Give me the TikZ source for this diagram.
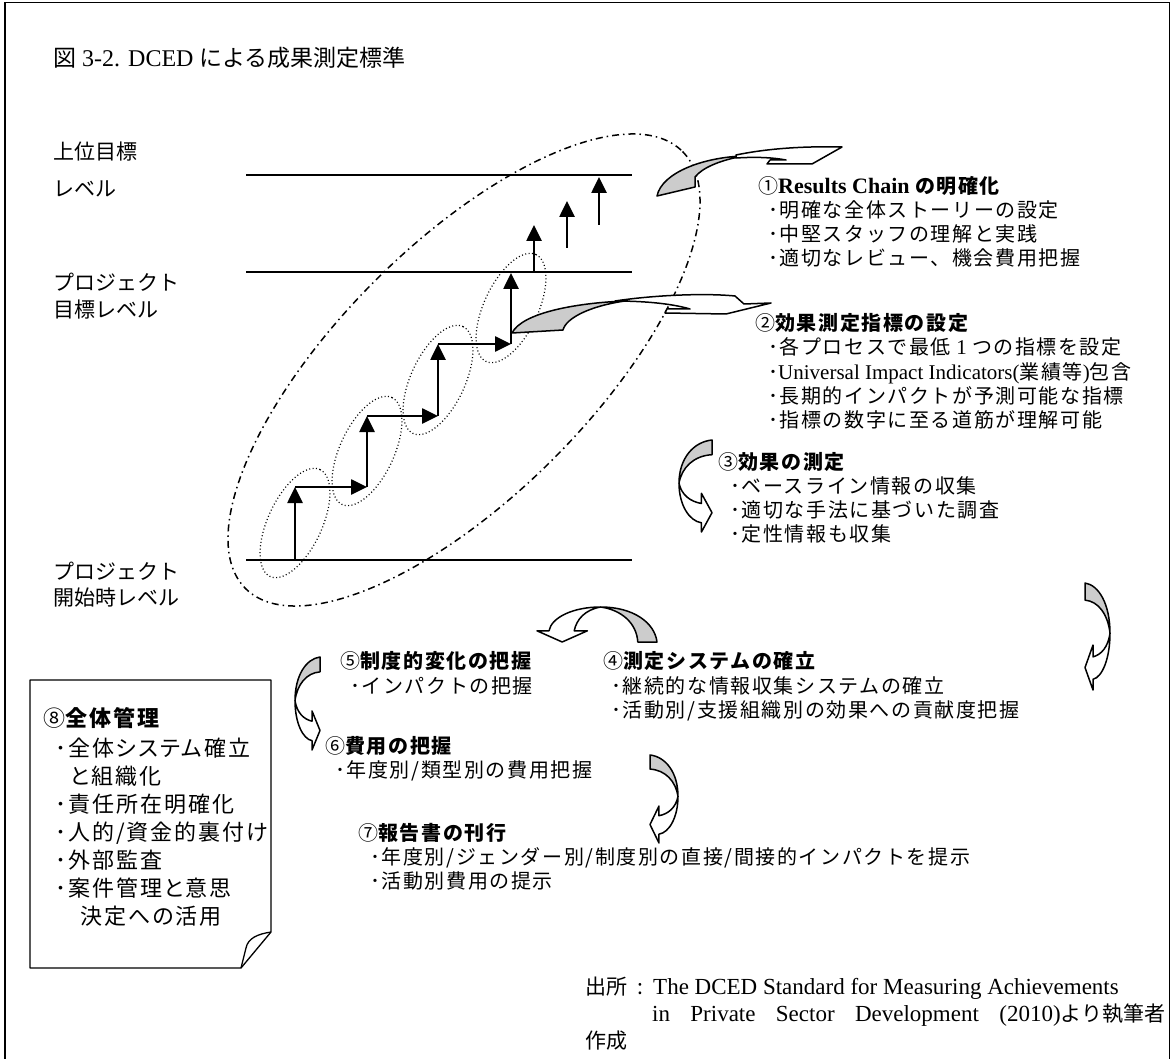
\documentclass[tikz,border=0pt]{standalone}
\usepackage{fontspec}
\setmainfont{Liberation Serif}
\newfontfamily\jp[LetterSpace=8]{Noto Sans CJK JP}
\newfontfamily\jpwide[LetterSpace=9,RawFeature=+palt]{Noto Sans CJK JP}
\newfontfamily\jpplain{Noto Sans CJK JP}
\newfontfamily\tms{Liberation Serif}
\usetikzlibrary{arrows.meta}
\tikzset{
  txt/.style={anchor=base west, inner sep=0pt, font=\jp\fontsize{20}{24}\selectfont},
  lbl/.style={anchor=base west, inner sep=0pt, font=\jpplain\fontsize{21}{26}\selectfont},
  bigtxt/.style={anchor=base west, inner sep=0pt, font=\jpwide\fontsize{22}{28}\selectfont},
  lvl/.style={line width=2pt},
  stair/.style={line width=2.6pt, -{Triangle[length=16pt,width=15pt]}},
  dotell/.style={line width=1.2pt, dash pattern=on 1pt off 2.4pt},
  dashdot/.style={line width=1.5pt, dash pattern=on 7pt off 4pt on 1.5pt off 4pt},
  band/.style={line width=1.5pt, line join=round},
  backfill/.style={band, fill=black!20},
  frontfill/.style={band, fill=white},
}
\newcommand\lt[1]{{\tms\fontsize{21}{24}\selectfont #1}}
\newcommand\carrowshape{%
  \filldraw[backfill] (1,0) .. controls (0.44,0.02) and (0,0.2) .. (0,0.47)
     .. controls (0.08,0.3) and (0.45,0.17) .. (1,0.16) -- cycle;
  \filldraw[frontfill] (0,0.47) .. controls (0,0.7) and (0.3,0.88) .. (0.68,0.9)
     -- (0.68,1) -- (1,0.79) -- (0.68,0.58) -- (0.68,0.69)
     .. controls (0.35,0.67) and (0.08,0.6) .. (0,0.47) -- cycle;
}
\begin{document}
\begin{tikzpicture}[x=1pt, y=-1pt]
\useasboundingbox (0,0) rectangle (1173,1059);
% outer frame
\draw[line width=1.2pt] (5,1070) -- (5,2.5) -- (1169.5,2.5) -- (1169.5,1070);

% title
\node[lbl, font=\jpplain\fontsize{23}{28}\selectfont] (title) at (53,67) {図{\tms\fontsize{24}{28}\selectfont\ 3-2. DCED }による成果測定標準};

% level labels
\node[lbl] (lt1) at (53,160) {上位目標};
\node[lbl] (lt2) at (53,197) {レベル};
\node[lbl] (lm1) at (53,291) {プロジェクト};
\node[lbl] (lm2) at (53,318) {目標レベル};
\node[lbl] (lb1) at (53,579) {プロジェクト};
\node[lbl] (lb2) at (53,605) {開始時レベル};

% level lines
\draw[lvl] (246,175) -- (632,175);
\draw[lvl] (246,272) -- (632,272);
\draw[lvl] (246,560) -- (632,560);

% big dash-dot ellipse
\coordinate (bigc) at (464,370);
\draw[dashdot, rotate around={45:(bigc)}] (bigc) ellipse [x radius=309, y radius=126];

% dotted ellipses
\foreach \cx/\cy in {295/523, 367/451, 438/380, 511/308}{
  \draw[dotell, rotate around={65:(\cx,\cy)}] (\cx,\cy) ellipse [x radius=59, y radius=27];
}

% staircase
\coordinate (s0) at (295,560);
\coordinate (s1) at (295,487);
\coordinate (s2) at (367,487);
\coordinate (s3) at (367,416);
\coordinate (s4) at (438,416);
\coordinate (s5) at (438,344);
\coordinate (s6) at (511,344);
\coordinate (s7) at (511,273);
\draw[stair] (s0) -- (s1);
\draw[stair] (s1) -- (s2);
\draw[stair] (s2) -- (s3);
\draw[stair] (s3) -- (s4);
\draw[stair] (s4) -- (s5);
\draw[stair] (s5) -- (s6);
\draw[stair] (s6) -- (s7);
\coordinate (u1a) at (534,272); \coordinate (u1b) at (534,225);
\coordinate (u2a) at (567,248); \coordinate (u2b) at (567,201);
\coordinate (u3a) at (599,225); \coordinate (u3b) at (599,177);
\draw[stair] (u1a) -- (u1b);
\draw[stair] (u2a) -- (u2b);
\draw[stair] (u3a) -- (u3b);

% curved arrow 1 (top)
\filldraw[backfill] (657,196) -- (695,187) -- (695,177)
   .. controls (702,168) and (720,160) .. (744,156)
   .. controls (705,157) and (662,172) .. (657,196) -- cycle;
\filldraw[frontfill] (736,155) .. controls (765,149) and (800,146) .. (842,147)
   -- (812,164) -- (767,164) -- (770,160) -- (786,160)
   .. controls (770,157) and (752,157) .. (736,158) -- cycle;

% curved arrow 2
\filldraw[backfill] (512,333) -- (563,330)
   .. controls (566,318) and (590,306) .. (625,301)
   .. controls (575,303) and (522,313) .. (512,333) -- cycle;
\filldraw[frontfill] (615,301) .. controls (655,295) and (705,293) .. (735,296)
   -- (744,304) -- (771,303) -- (726,314) -- (665,313) -- (667,309) -- (690,309)
   .. controls (670,303) and (640,301) .. (615,301) -- cycle;

% curved arrows (template)
\begin{scope}[shift={(679pt,-440pt)}, x={(33pt,0pt)}, y={(0pt,-92pt)}]\carrowshape\end{scope}
\begin{scope}[shift={(1110pt,-583pt)}, x={(-25pt,0pt)}, y={(0pt,-107pt)}]\carrowshape\end{scope}
\begin{scope}[shift={(657pt,-607pt)}, x={(0pt,-35pt)}, y={(-120pt,0pt)}]\carrowshape\end{scope}
\begin{scope}[shift={(295pt,-657pt)}, x={(25pt,0pt)}, y={(0pt,-93pt)}]\carrowshape\end{scope}
\begin{scope}[shift={(678pt,-755pt)}, x={(-28pt,0pt)}, y={(0pt,-88pt)}]\carrowshape\end{scope}

% (1)
\node[txt] (h1) at (758,194) {①{\tms\fontsize{22}{24}\selectfont\bfseries Results Chain }{\bfseries の明確化}};
\node[txt] (i11) at (768,218) {･明確な全体ストーリーの設定};
\node[txt] (i12) at (768,242) {･中堅スタッフの理解と実践};
\node[txt] (i13) at (768,266) {･適切なレビュー、機会費用把握};
% (2)
\node[txt] (h2) at (755,331) {②{\bfseries 効果測定指標の設定}};
\node[txt] (i21) at (768,355) {･各プロセスで最低\lt{\ 1\ }つの指標を設定};
\node[txt] (i22) at (768,379) {･\lt{Universal Impact Indicators(}業績等\lt{)}包含};
\node[txt] (i23) at (768,403) {･長期的インパクトが予測可能な指標};
\node[txt] (i24) at (768,427) {･指標の数字に至る道筋が理解可能};
% (3)
\node[txt] (h3) at (718,469) {③{\bfseries 効果の測定}};
\node[txt] (i31) at (730,493) {･ベースライン情報の収集};
\node[txt] (i32) at (730,517) {･適切な手法に基づいた調査};
\node[txt] (i33) at (730,541) {･定性情報も収集};
% (4)
\node[txt] (h4) at (603,668) {④{\bfseries 測定システムの確立}};
\node[txt] (i41) at (611,693) {･継続的な情報収集システムの確立};
\node[txt] (i42) at (611,717) {･活動別/支援組織別の効果への貢献度把握};
% (5)
\node[txt] (h5) at (340,668) {⑤{\bfseries 制度的変化の把握}};
\node[txt] (i51) at (350,693) {･インパクトの把握};
% (6)
\node[txt] (h6) at (325,753) {⑥{\bfseries 費用の把握}};
\node[txt] (i61) at (335,777) {･年度別/類型別の費用把握};
% (7)
\node[txt] (h7) at (358,840) {⑦{\bfseries 報告書の刊行}};
\node[txt] (i71) at (370,864) {･年度別/ジェンダー別/制度別の直接/間接的インパクトを提示};
\node[txt] (i72) at (370,888) {･活動別費用の提示};

% (8) note box
\draw[line width=1.3pt, line join=round] (30,680) -- (271,680) -- (271,932) -- (241,968) -- (30,968) -- cycle;
\draw[line width=1.3pt, line join=round] (271,932) .. controls (258,934) and (248,938) .. (246,948) -- (241,968);
\node[bigtxt] (h8) at (43,726) {⑧{\bfseries 全体管理}};
\node[bigtxt] (i81) at (55,756) {･全体システム確立};
\node[bigtxt] (i82) at (70,784) {と組織化};
\node[bigtxt] (i83) at (55,812) {･責任所在明確化};
\node[bigtxt] (i84) at (55,840) {･人的/資金的裏付け};
\node[bigtxt] (i85) at (55,868) {･外部監査};
\node[bigtxt] (i86) at (55,896) {･案件管理と意思};
\node[bigtxt] (i87) at (80,924) {決定への活用};

% source
\node[lbl] (src1) at (585,994) {出所\makebox[26pt][c]{:}{\tms\fontsize{23}{26}\selectfont The DCED Standard for Measuring Achievements}};
\node[lbl] (src2) at (652,1021) {\makebox[513pt][s]{{\tms\fontsize{23}{26}\selectfont in Private Sector Development (2010)}より執筆者}};
\node[lbl] (src3) at (585,1048) {作成};
\end{tikzpicture}
\end{document}
